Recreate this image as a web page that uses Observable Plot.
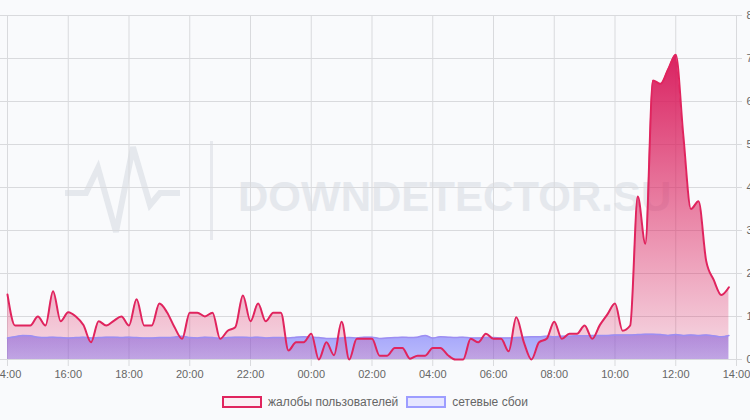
<!DOCTYPE html>
<html><head><meta charset="utf-8">
<script src="https://cdn.jsdelivr.net/npm/d3@7"></script>
<script src="https://cdn.jsdelivr.net/npm/@observablehq/plot@0.6"></script>
<style>
html,body{margin:0;padding:0;background:#f9fafc;}
#wrap{position:relative;width:750px;height:420px;overflow:hidden;font-family:"Liberation Sans",Arial,sans-serif;}
#wm,#chart{position:absolute;left:0;top:0;}
#legend{position:absolute;left:0;top:396px;width:750px;display:flex;justify-content:center;align-items:center;font-size:12px;color:#666;line-height:12px;}
.item{display:flex;align-items:center;margin:0 4px;}
.box{width:36px;height:8px;border:2px solid;margin-right:6px;}
</style></head>
<body>
<div id="wrap">
<svg id="wm" width="750" height="420">
  <polyline points="65,193 86,193 98,168 116,232 133,147 150,205 160,193 180,193" fill="none" stroke="#e5e8ed" stroke-width="6" stroke-linejoin="miter"/>
  <rect x="210" y="141" width="3" height="99" fill="#e7e9ee"/>
  <text x="238" y="211" font-family="Liberation Sans, Arial, sans-serif" font-weight="700" font-size="42" fill="#e5e8ed">DOWNDETECTOR.SU</text>
</svg>
<div id="chart"></div>
<div id="legend">
  <div class="item"><div class="box" style="border-color:#e0245e;background:#fbeef3"></div><span>жалобы пользователей</span></div>
  <div class="item"><div class="box" style="border-color:#9d9dff;background:#e6e6ff"></div><span>сетевые сбои</span></div>
</div>
</div>
<script>
// user complaints, every 15 minutes from 14:00
const complaints = [
  1.51,0.79,0.79,0.79,1.0,0.79,1.59,0.89,1.1,1.0,0.8,0.4,
  0.89,0.79,0.9,1.0,0.79,1.4,0.79,0.79,1.3,1.1,0.75,0.48,
  1.09,1.09,1.0,1.09,0.48,0.67,0.75,1.49,0.89,1.3,0.89,1.09,
  1.09,0.21,0.4,0.4,0.6,0,0.4,0.1,0.88,0,0.48,0.48,
  0.48,0.09,0.09,0.27,0.27,0.02,0.09,0.09,0.27,0.27,0.1,0,
  0,0.48,0.4,0.6,0.48,0.48,0.19,0.98,0.4,0,0.4,0.48,
  0.88,0.48,0.6,0.6,0.79,0.48,0.8,1.05,1.3,0.67,0.79,3.79,
  2.69,6.49,6.41,6.75,7.09,5.2,3.5,3.68,2.3,1.85,1.5,1.68
];
// network failures
const failures = [
  0.50,0.53,0.56,0.55,0.52,0.51,0.52,0.51,0.50,0.51,0.52,0.50,
  0.51,0.52,0.52,0.51,0.52,0.51,0.50,0.50,0.51,0.51,0.52,0.54,
  0.51,0.50,0.52,0.51,0.49,0.51,0.52,0.52,0.51,0.52,0.50,0.51,
  0.51,0.50,0.52,0.53,0.52,0.51,0.49,0.49,0.50,0.51,0.50,0.52,
  0.52,0.49,0.50,0.51,0.52,0.51,0.52,0.56,0.50,0.53,0.52,0.51,
  0.52,0.50,0.50,0.51,0.51,0.50,0.50,0.51,0.52,0.53,0.53,0.54,
  0.53,0.54,0.54,0.55,0.55,0.56,0.56,0.56,0.57,0.57,0.57,0.58,
  0.59,0.59,0.58,0.56,0.58,0.56,0.57,0.56,0.57,0.55,0.53,0.56
];
const yTicks = [0,1,2,3,4,5,6,7,8];
const start = new Date(Date.UTC(2024,0,1,14));
const end = new Date(Date.UTC(2024,0,2,14));
const times = d3.utcMinute.every(15).range(start, end);
const xTicks = d3.utcHour.every(2).range(start, new Date(+end + 1));
const rows = times.map((t,i)=>({t, r:complaints[i], b:failures[i]}));

function defs(){
  const ns="http://www.w3.org/2000/svg";
  const d=document.createElementNS(ns,"defs");
  const mk=(id,stops)=>{
    const g=document.createElementNS(ns,"linearGradient");
    g.setAttribute("id",id);g.setAttribute("x1","0");g.setAttribute("y1","0");g.setAttribute("x2","0");g.setAttribute("y2","1");
    for(const [o,c,a] of stops){const s=document.createElementNS(ns,"stop");s.setAttribute("offset",o);s.setAttribute("stop-color",c);s.setAttribute("stop-opacity",a);g.appendChild(s);}
    d.appendChild(g);
  };
  mk("gRed",[[0,"#d81b5c",0.97],[1,"#e0245e",0.15]]);
  mk("gBlue",[[0,"#6e6efa",0.6],[1,"#6e6efa",0.45]]);
  return d;
}

const chart = Plot.plot({
  width:750, height:388, marginTop:15, marginRight:14, marginBottom:29, marginLeft:7,
  style:{background:"transparent", fontFamily:"Liberation Sans, Arial, sans-serif", fontSize:"11px", color:"#666", overflow:"visible"},
  x:{type:"utc", domain:[start,end], label:null},
  y:{domain:[0,8], label:null},
  marks:[
    defs,
    Plot.ruleX(xTicks, {x:d=>d, stroke:"#d9dadd", strokeWidth:1, insetBottom:-7}),
    Plot.ruleY(yTicks, {y:d=>d, stroke:"#d9dadd", strokeWidth:1, insetLeft:-7, insetRight:-6}),
    Plot.areaY(rows, {x:"t", y:"b", fill:"url(#gBlue)", curve:"monotone-x"}),
    Plot.areaY(rows, {x:"t", y:"r", fill:"url(#gRed)", curve:"monotone-x"}),
    Plot.lineY(rows, {x:"t", y:"b", stroke:"#9d8ef2", strokeWidth:1.5, curve:"monotone-x"}),
    Plot.lineY(rows, {x:"t", y:"r", stroke:"#e0245e", strokeWidth:2, curve:"monotone-x"}),
    Plot.axisX({ticks:xTicks, tickFormat:d3.utcFormat("%H:%M"), tickSize:0, tickPadding:11, fill:"#666", label:null}),
    Plot.axisY({anchor:"right", ticks:yTicks, tickSize:0, tickPadding:10, fill:"#666", label:null})
  ]
});
document.getElementById("chart").appendChild(chart);
</script>
</body></html>
